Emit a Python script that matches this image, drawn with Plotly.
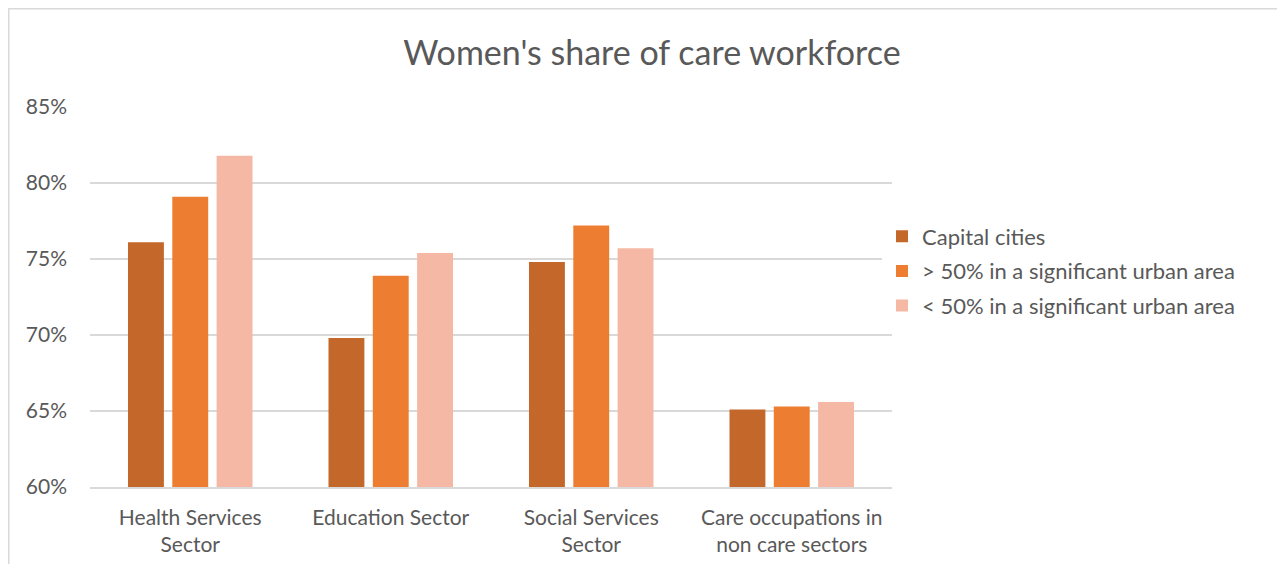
import plotly.graph_objects as go

categories = ["Health Services<br>Sector", "Education Sector", "Social Services<br>Sector", "Care occupations in<br>non care sectors"]
series_names = ["Capital cities", "> 50% in a significant urban area", "< 50% in a significant urban area"]
capital = [0.761, 0.698, 0.748, 0.651]
above50 = [0.791, 0.739, 0.772, 0.653]
below50 = [0.818, 0.754, 0.757, 0.656]
colors = ["#C4672B", "#ED7D31", "#F4B8A4"]
tick_vals = [0.60, 0.65, 0.70, 0.75, 0.80, 0.85]

# page body adds an 8px margin; the figure is sized/positioned to compensate
OFF = 8
W, H = 1285 - 2 * OFF, 572 - 2 * OFF
L, R, T, B = 90 - OFF, 892 - OFF, 107 - OFF, 487 - OFF
FONT = "Lato"
GREY = "#595959"

fig = go.Figure()
for i, (name, vals, c) in enumerate(zip(series_names, [capital, above50, below50], colors)):
    fig.add_trace(go.Bar(x=categories, y=vals, name=name, legendgroup=f"g{i}",
                         marker=dict(color=c, line=dict(width=0))))

pw, ph = R - L, B - T
fig.update_layout(
    width=W, height=H,
    margin=dict(l=L, r=W - R, t=T, b=H - B, pad=0, autoexpand=False),
    paper_bgcolor="white", plot_bgcolor="white",
    barmode="group", bargap=0.337, bargroupgap=0.19,
    font=dict(family=FONT, color=GREY, size=21),
    title=dict(text="Women's share of care workforce", x=(652 - OFF) / W, xanchor="center", xref="container",
               y=1 - (53 - OFF) / H, yanchor="middle", yref="container",
               font=dict(size=34, color=GREY, family=FONT)),
    legend=dict(x=(882 - OFF - L) / pw, xanchor="left", y=(B - (271 - OFF)) / ph, yanchor="middle",
                font=dict(size=22, color=GREY, family=FONT), tracegroupgap=3, itemwidth=30),
    showlegend=True,
)
fig.update_yaxes(range=[0.60, 0.85], tickvals=tick_vals, tickformat=".0%", automargin=False,
                 showgrid=True, gridcolor="#D9D9D9", gridwidth=1.5,
                 zeroline=False, showline=False, ticks="", ticklen=0,
                 tickfont=dict(size=21, color=GREY, family=FONT), ticklabelstandoff=22)
fig.update_xaxes(showline=True, linecolor="#D9D9D9", linewidth=1.5, ticks="", automargin=False,
                 tickfont=dict(size=21, color=GREY, family=FONT), ticklabelstandoff=11)
fig.add_shape(type="rect", xref="paper", yref="paper",
              x0=(0.75 - L) / pw, x1=(1300 - L) / pw,
              y0=(B - 600) / ph, y1=(B - 0.75) / ph,
              line=dict(color="#D9D9D9", width=1.5), fillcolor="rgba(0,0,0,0)", layer="below")
fig.write_html("out.html")
